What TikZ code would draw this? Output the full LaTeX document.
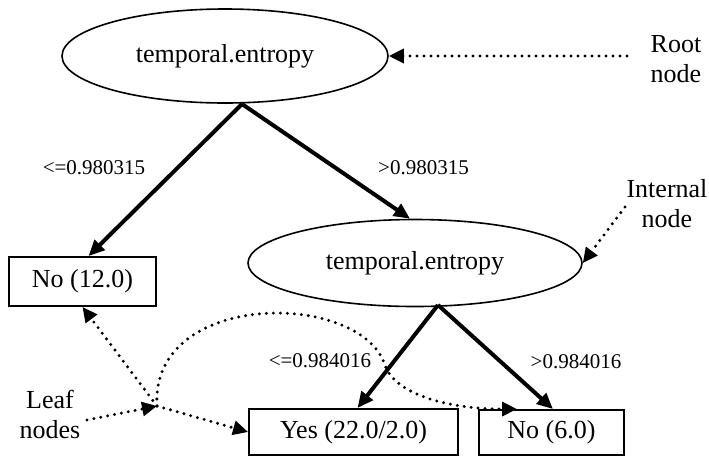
\documentclass[tikz,border=0pt]{standalone}
\usepackage{fontspec}
\setmainfont{Liberation Serif}
\usetikzlibrary{shapes.geometric,arrows.meta}
\begin{document}
\begin{tikzpicture}[x=1pt,y=-1pt,
  bigtext/.style={font=\fontsize{26}{30}\selectfont},
  edgelabel/.style={font=\fontsize{21}{24}\selectfont,inner sep=0pt},
  testnode/.style={ellipse,draw,line width=1.6pt,inner sep=0pt,bigtext},
  leafbox/.style={rectangle,draw,line width=1.9pt,inner sep=0pt,bigtext},
  treeedge/.style={line width=4pt,-{Triangle[length=16pt,width=14pt]}},
  pointer/.style={line width=3.3pt,line cap=round,dash pattern=on 0pt off 7pt,
    -{Triangle[length=15pt,width=14pt]}},
  note/.style={bigtext,align=center,inner sep=0pt}]
\useasboundingbox (0,0) rectangle (709,459);
% nodes
\node[testnode,minimum width=326pt,minimum height=94pt] (root) at (225,56) {temporal.entropy};
\node[testnode,minimum width=334pt,minimum height=87pt] (internal) at (415,263) {temporal.entropy};
\node[leafbox,minimum width=147pt,minimum height=49pt] (no12) at (82.5,281.5) {No (12.0)};
\node[leafbox,minimum width=209pt,minimum height=46pt] (yes) at (353.5,432) {Yes (22.0/2.0)};
\node[leafbox,minimum width=145pt,minimum height=45pt] (no6) at (551.5,432.5) {No (6.0)};
% edge labels
\node[edgelabel] (l1) at (94,168) {<=0.980315};
\node[edgelabel] (l2) at (423.5,168) {>0.980315};
\node[edgelabel] (l3) at (320,360.5) {<=0.984016};
\node[edgelabel] (l4) at (576,361.5) {>0.984016};
% annotations
\node[note] (rootnote) at (676,59.5) {Root\\node};
\node[note] (intnote) at (667,204) {Internal\\node};
\node[note] (leafnote) at (50,414) {Leaf\\nodes};
% coordinates
\coordinate (j1) at (242,104);
\coordinate (j2) at (438,305);
\coordinate (hub) at (157,406);
\coordinate (rootfrom) at (627,56);
\coordinate (intfrom) at (625,207);
\coordinate (leaffrom) at (87,420);
% tree edges
\draw[treeedge] (j1) -- ([xshift=6pt]no12.north);
\draw[treeedge] (j1) -- ([xshift=-5pt]internal.north);
\draw[treeedge] (j2) -- ([xshift=4pt]yes.north);
\draw[treeedge] (j2) -- ([xshift=1.5pt]no6.north);
% pointers
\draw[pointer] (rootfrom) -- (root.east);
\draw[pointer] (intfrom) -- (internal.east);
\draw[pointer] (leaffrom) -- (hub);
\draw[pointer] (hub) -- (no12.south);
\draw[pointer] (hub) -- (yes.west);
\draw[pointer] (hub) .. controls (150,290) and (360,290) .. (385,365)
  .. controls (395,395) and (450,409) .. ([xshift=-34.5pt]no6.north);
\end{tikzpicture}
\end{document}
